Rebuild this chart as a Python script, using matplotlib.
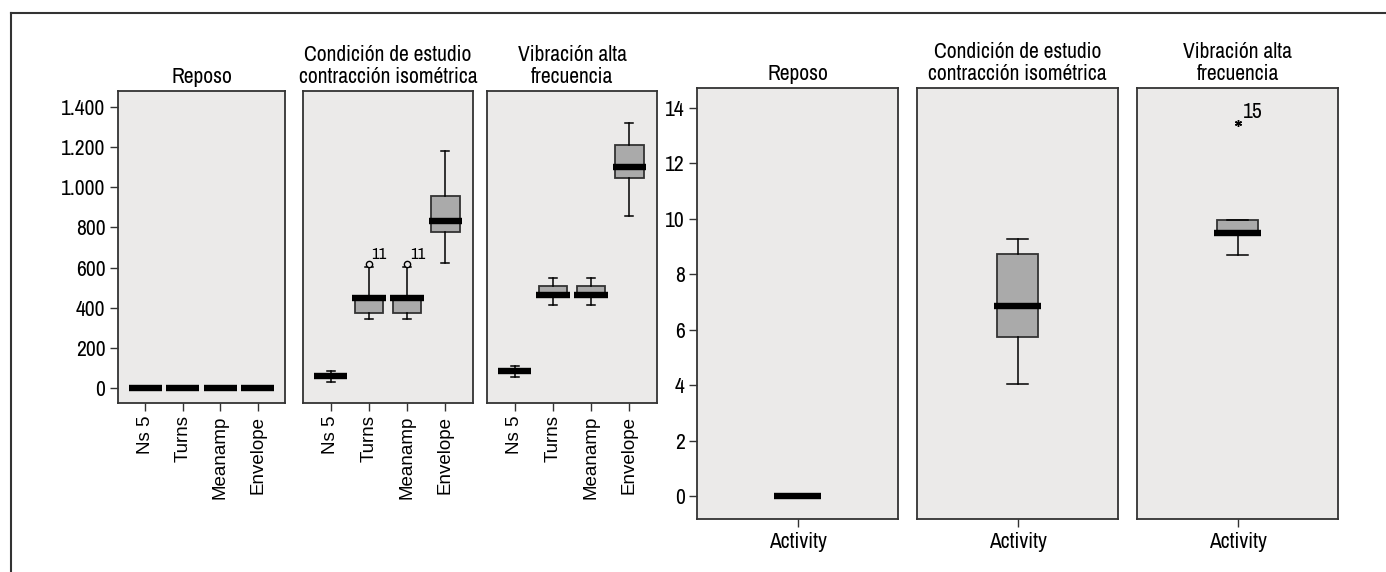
import matplotlib
matplotlib.use("Agg")
import matplotlib.pyplot as plt
from matplotlib.lines import Line2D

# ---------------- data ----------------
conditions = ["Reposo", "Condición de estudio\ncontracción isométrica", "Vibración alta\nfrecuencia"]
variables = ["Ns 5", "Turns", "Meanamp", "Envelope"]

# left group: five-number summaries per variable for each condition
reposo_vars = {
    "whislo": [0, 0, 0, 0], "q1": [0, 0, 0, 0], "med": [0, 0, 0, 0],
    "q3": [0, 0, 0, 0], "whishi": [0, 0, 0, 0],
}
contraccion_vars = {
    "whislo": [30, 342, 342, 624], "q1": [50, 372, 372, 776], "med": [60, 450, 450, 834],
    "q3": [68, 455, 455, 958], "whishi": [86, 604, 604, 1181],
}
vibracion_vars = {
    "whislo": [56, 415, 415, 857], "q1": [78, 455, 455, 1045], "med": [86, 463, 463, 1103],
    "q3": [95, 510, 510, 1212], "whishi": [110, 548, 548, 1320],
}
outliers_contraccion = {1: [616], 2: [616]}   # variable index -> outlier values
outlier_labels_contraccion = {1: "11", 2: "11"}

left_yticks = [0, 200, 400, 600, 800, 1000, 1200, 1400]
left_yticklabels = ["0", "200", "400", "600", "800", "1.000", "1.200", "1.400"]

# right group: Activity
activity_label = "Activity"
activity_stats = [
    {"whislo": 0, "q1": 0, "med": 0, "q3": 0, "whishi": 0},
    {"whislo": 4.04, "q1": 5.75, "med": 6.87, "q3": 8.74, "whishi": 9.29},
    {"whislo": 8.71, "q1": 9.42, "med": 9.48, "q3": 9.97, "whishi": 9.97},
]
activity_outliers = [[], [], [13.45]]
activity_outlier_labels = [None, None, "15"]
right_yticks = [0, 2, 4, 6, 8, 10, 12, 14]

# ---------------- style ----------------
W, H = 1386, 572
fig = plt.figure(figsize=(W / 100, H / 100), dpi=100)
fig.patch.set_facecolor("white")

NARROW = ["Archivo Narrow", "Liberation Sans", "DejaVu Sans"]
REG = ["Liberation Sans", "DejaVu Sans"]
FS = 15.5
BG = "#ebeae9"
BOXFILL = "#aaaaaa"
EDGE = "#333333"


def px_axes(l, r, t, b):
    return fig.add_axes([l / W, (H - b) / H, (r - l) / W, (b - t) / H])


def style_axes(ax):
    ax.set_facecolor(BG)
    for s in ax.spines.values():
        s.set_color(EDGE)
        s.set_linewidth(1.3)
    ax.tick_params(axis="both", direction="out", length=6, width=1.0, color=EDGE, pad=3)


def draw_boxes(ax, stats, positions, boxw, medw, capw):
    ax.bxp(stats, positions=positions, widths=boxw, capwidths=capw,
           patch_artist=True, showfliers=False,
           boxprops=dict(facecolor=BOXFILL, edgecolor=EDGE, linewidth=1.3),
           whiskerprops=dict(color="black", linewidth=1.1),
           capprops=dict(color="black", linewidth=1.1),
           medianprops=dict(linewidth=0))
    for p, st in zip(positions, stats):
        ax.hlines(st["med"], p - medw / 2, p + medw / 2, colors="black",
                  linewidth=4.6, zorder=5)


left_axes_px = [(118, 285), (303, 473), (487, 657)]
right_axes_px = [(697, 898), (917, 1118), (1137, 1338)]
left_groups = [reposo_vars, contraccion_vars, vibracion_vars]

positions = [1, 2, 3, 4]
for i, ((l, r), grp) in enumerate(zip(left_axes_px, left_groups)):
    ax = px_axes(l, r, 91, 403)
    style_axes(ax)
    stats = [{k: grp[k][j] for k in ["whislo", "q1", "med", "q3", "whishi"]}
             for j in range(len(variables))]
    draw_boxes(ax, stats, positions, 0.745, 0.88, 0.21)
    if i == 1:
        for j, vals in outliers_contraccion.items():
            ax.plot([positions[j]] * len(vals), vals, linestyle="none", marker="o",
                    markersize=4.5, markerfacecolor=BG, markeredgecolor="black",
                    markeredgewidth=1.0, zorder=6)
            ax.annotate(outlier_labels_contraccion[j], (positions[j], vals[0]),
                        xytext=(2, 2), textcoords="offset points", fontsize=12,
                        family=NARROW, ha="left", va="bottom")
    ax.set_xlim(0.28, 4.72)
    ax.set_ylim(-75, 1480)
    ax.set_xticks(positions)
    ax.set_xticklabels(variables, rotation=90, family=REG, fontsize=13.5)
    if i == 0:
        ax.set_yticks(left_yticks)
        ax.set_yticklabels(left_yticklabels, family=NARROW, fontsize=FS)
    else:
        ax.set_yticks([])
    ax.set_title(conditions[i], family=NARROW, fontsize=FS, pad=6, linespacing=1.1)

for i, (l, r) in enumerate(right_axes_px):
    ax = px_axes(l, r, 88, 519)
    style_axes(ax)
    draw_boxes(ax, [activity_stats[i]], [1], 0.41, 0.47, 0.2)
    if activity_outliers[i]:
        vals = activity_outliers[i]
        ax.plot([1] * len(vals), vals, linestyle="none", marker=(6, 2, 0),
                markersize=5, markeredgewidth=1.0, color="black", zorder=6)
        ax.annotate(activity_outlier_labels[i], (1, vals[0]), xytext=(4, 1),
                    textcoords="offset points", fontsize=FS, family=NARROW,
                    ha="left", va="bottom")
    ax.set_xlim(0, 2)
    ax.set_ylim(-0.83, 14.72)
    ax.set_xticks([1])
    ax.set_xticklabels([activity_label], family=NARROW, fontsize=FS)
    if i == 0:
        ax.set_yticks(right_yticks)
        ax.set_yticklabels([str(v) for v in right_yticks], family=NARROW, fontsize=FS)
    else:
        ax.set_yticks([])
    ax.set_title(conditions[i], family=NARROW, fontsize=FS, pad=6, linespacing=1.1)

# outer frame (top and left edges)
fig.add_artist(Line2D([11 / W, 1.0], [1 - 13 / H, 1 - 13 / H], color=EDGE,
                      linewidth=1.5, transform=fig.transFigure))
fig.add_artist(Line2D([11 / W, 11 / W], [0.0, 1 - 13 / H], color=EDGE,
                      linewidth=1.5, transform=fig.transFigure))

fig.savefig("out.png", dpi=100)
